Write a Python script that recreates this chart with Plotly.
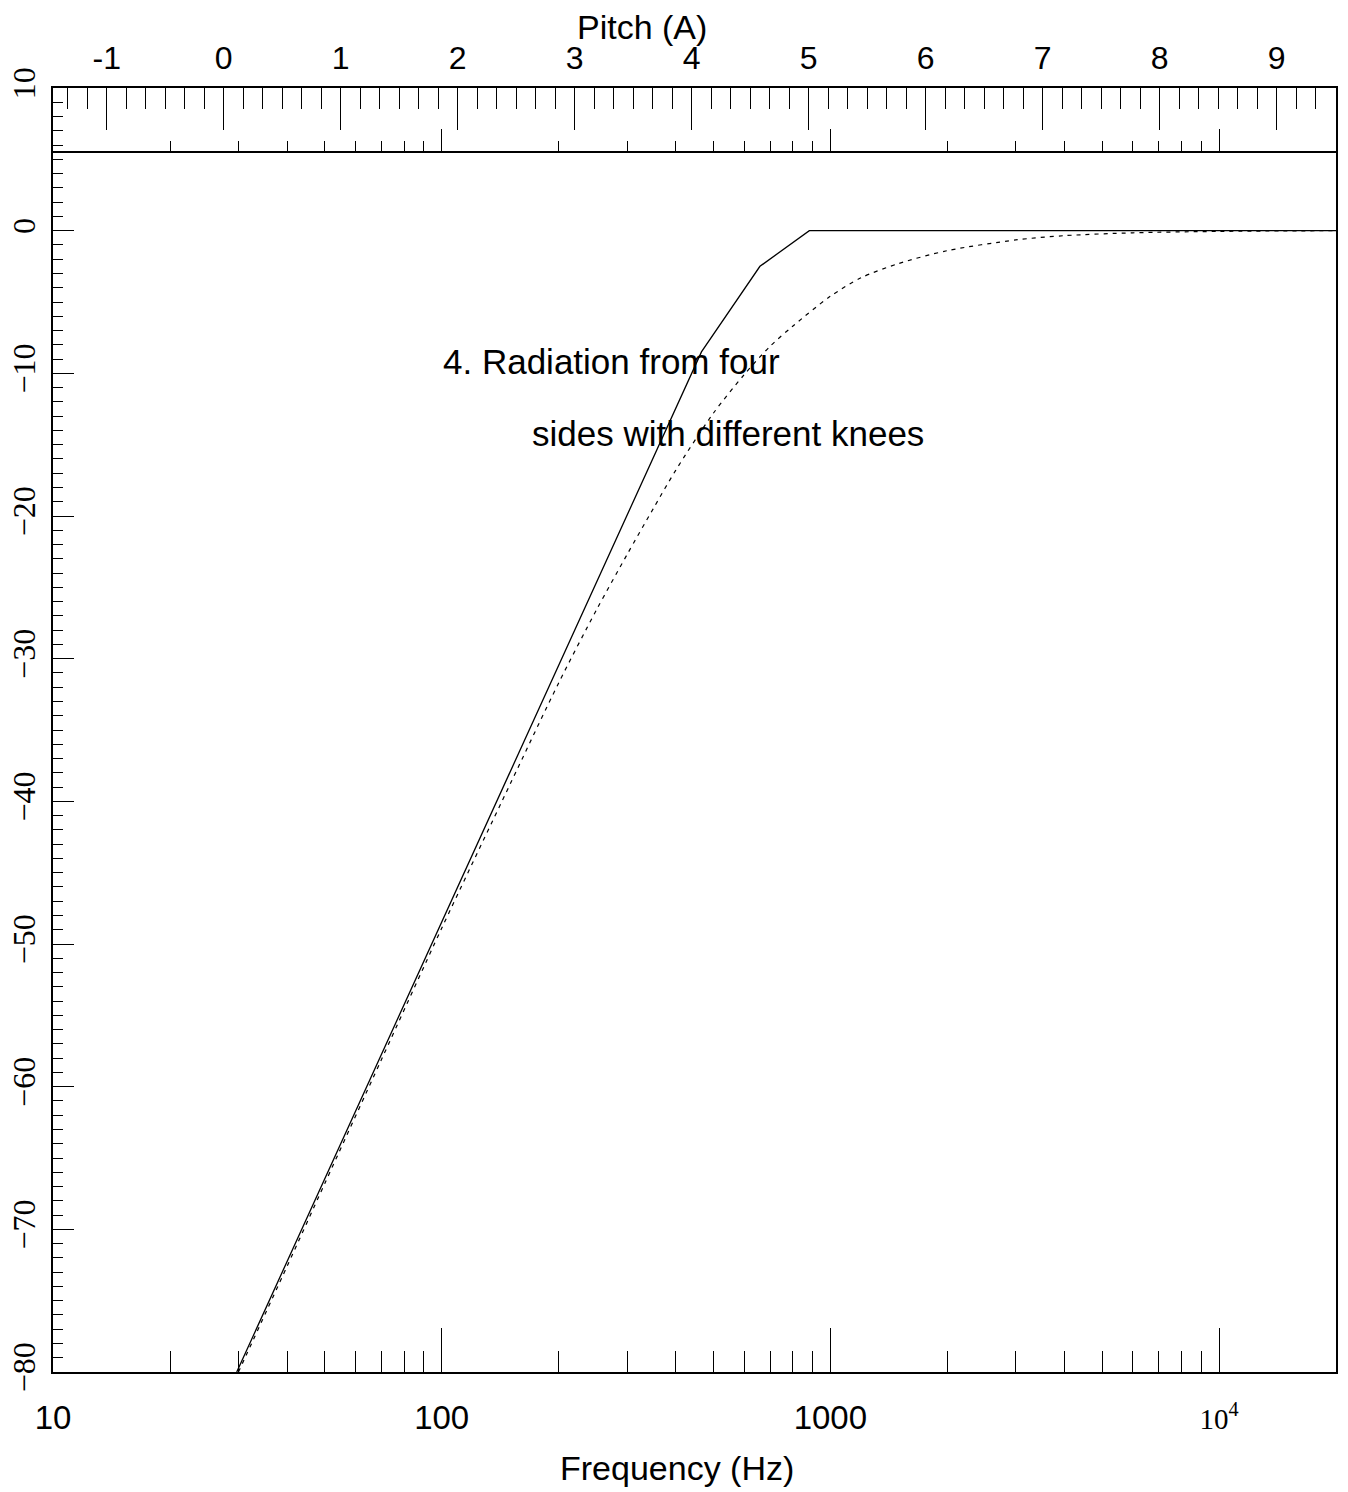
import plotly.graph_objects as go

# ---------------- data ----------------
# solid: piecewise asymptotic response (knees)
solid_freq = [29.7, 466, 659, 883, 20000]
solid_db = [-80.0, -8.5, -2.5, 0.0, 0.0]

# dotted: smooth response
dash_freq = [30, 40, 50, 70, 100, 150, 200, 250, 300, 350, 400, 500, 600, 700,
             800, 1000, 1200, 1500, 2000, 3000, 4000, 6000, 10000, 20000]
dash_db = [-80.0, -72.6, -66.8, -58.1, -48.9, -38.8, -31.7, -26.6, -22.7, -19.5,
           -16.8, -12.8, -10.1, -8.1, -6.7, -4.6, -3.3, -2.3, -1.4, -0.65,
           -0.35, -0.15, -0.05, 0.0]

# axis ticks
freq_major = [10, 100, 1000, 10000]
freq_major_text = ["10", "100", "1000",
                   '<span style="font-family:Liberation Serif;font-size:29px">10<sup>4</sup></span>']
freq_minor = [20, 30, 40, 50, 60, 70, 80, 90,
              200, 300, 400, 500, 600, 700, 800, 900,
              2000, 3000, 4000, 5000, 6000, 7000, 8000, 9000]
freq_major_top = [100, 1000, 10000]
pitch_ticks = [-1, 0, 1, 2, 3, 4, 5, 6, 7, 8, 9]
pitch_text = ["-1", "0", "1", "2", "3", "4", "5", "6", "7", "8", "9"]

F_MIN, F_MAX_LOG = 1.0, 4.30103          # log10 range of frequency axis
A0_LOG, OCT_LOG = 1.439333, 0.30103      # log10(27.5 Hz), log10(2)
pitch_range = [(F_MIN - A0_LOG) / OCT_LOG, (F_MAX_LOG - A0_LOG) / OCT_LOG]

SANS = "Liberation Sans"
SERIF = "Liberation Serif"

fig = go.Figure()
fig.add_trace(go.Scatter(x=solid_freq, y=solid_db, mode="lines",
                         line=dict(color="black", width=1.3),
                         xaxis="x", yaxis="y", hoverinfo="skip", showlegend=False))
fig.add_trace(go.Scatter(x=dash_freq, y=dash_db, mode="lines",
                         line=dict(color="black", width=1.2, dash="4px,5px",
                                   shape="spline", smoothing=0.8),
                         xaxis="x", yaxis="y", hoverinfo="skip", showlegend=False))
# invisible traces to instantiate the extra axes
fig.add_trace(go.Scatter(x=pitch_ticks, y=[None] * len(pitch_ticks), mode="lines",
                         xaxis="x2", yaxis="y", hoverinfo="skip", showlegend=False))
fig.add_trace(go.Scatter(x=freq_major_top, y=[None] * len(freq_major_top), mode="lines",
                         xaxis="x3", yaxis="y", hoverinfo="skip", showlegend=False))

L, R, T, B = 53, 12, 88, 120
W = 1348 - L - R
H = 1492 - T - B
line_y_px = 152.3
fig.update_layout(
    width=1348, height=1492,
    margin=dict(l=L, r=R, t=T, b=B, pad=0, autoexpand=False),
    paper_bgcolor="white", plot_bgcolor="white",
    font=dict(family=SANS, color="black"),
    xaxis=dict(
        type="log", range=[F_MIN, F_MAX_LOG], side="bottom", anchor="y",
        automargin=False,
        showline=True, linecolor="black", linewidth=2, mirror=False,
        showgrid=False, zeroline=False,
        ticks="inside", tickvals=freq_major, ticktext=freq_major_text,
        ticklen=44, tickwidth=1.2, tickcolor="black",
        tickfont=dict(family=SANS, size=33), ticklabelstandoff=15,
        minor=dict(ticks="inside", tickvals=freq_minor, ticklen=21,
                   tickwidth=1.2, tickcolor="black", showgrid=False),
    ),
    xaxis2=dict(
        overlaying="x", side="top", anchor="y", range=pitch_range,
        automargin=False,
        showline=True, linecolor="black", linewidth=2,
        showgrid=False, zeroline=False,
        ticks="inside", tickvals=pitch_ticks, ticktext=pitch_text,
        ticklen=42, tickwidth=1.2, tickcolor="black",
        tickfont=dict(family=SANS, size=32), ticklabelstandoff=4,
        minor=dict(ticks="inside", tick0=0, dtick=1 / 6, ticklen=21,
                   tickwidth=1.2, tickcolor="black", showgrid=False),
    ),
    xaxis3=dict(
        type="log", overlaying="x", anchor="free", side="top",
        automargin=False,
        position=1 - (line_y_px - T) / H, range=[F_MIN, F_MAX_LOG],
        showline=True, linecolor="black", linewidth=1.5,
        showgrid=False, zeroline=False, showticklabels=False,
        ticks="outside", tickvals=freq_major_top, ticklen=23, tickwidth=1.2,
        tickcolor="black",
        minor=dict(ticks="outside", tickvals=freq_minor, ticklen=11,
                   tickwidth=1.2, tickcolor="black", showgrid=False),
    ),
    yaxis=dict(
        range=[-80, 10], tick0=0, dtick=10,
        automargin=False,
        showline=True, linecolor="black", linewidth=2, mirror=True,
        showgrid=False, zeroline=False,
        ticks="inside", ticklen=21, tickwidth=1.2, tickcolor="black",
        tickangle=-90, tickfont=dict(family=SERIF, size=32), ticklabelstandoff=3,
        minor=dict(ticks="inside", dtick=1, ticklen=10, tickwidth=1.2,
                   tickcolor="black", showgrid=False),
    ),
    annotations=[
        dict(text="Pitch (A)", xref="paper", yref="paper",
             x=(642 - L) / W, y=1 + (T - 27) / H, xanchor="center", yanchor="middle",
             showarrow=False, font=dict(family=SANS, size=34)),
        dict(text="Frequency (Hz)", xref="paper", yref="paper",
             x=(677 - L) / W, y=-(1468 - T - H) / H, xanchor="center", yanchor="middle",
             showarrow=False, font=dict(family=SANS, size=34)),
        dict(text="4. Radiation from four", xref="paper", yref="paper",
             x=(441 - L) / W, y=1 - (362 - T) / H, xanchor="left", yanchor="middle",
             showarrow=False, font=dict(family=SANS, size=35)),
        dict(text="sides with different knees", xref="paper", yref="paper",
             x=(530 - L) / W, y=1 - (433 - T) / H, xanchor="left", yanchor="middle",
             showarrow=False, font=dict(family=SANS, size=35)),
    ],
)

fig.write_html(
    "out.html",
    config={"displayModeBar": False},
    post_script="document.body.style.margin='0';document.body.style.padding='0';",
)
